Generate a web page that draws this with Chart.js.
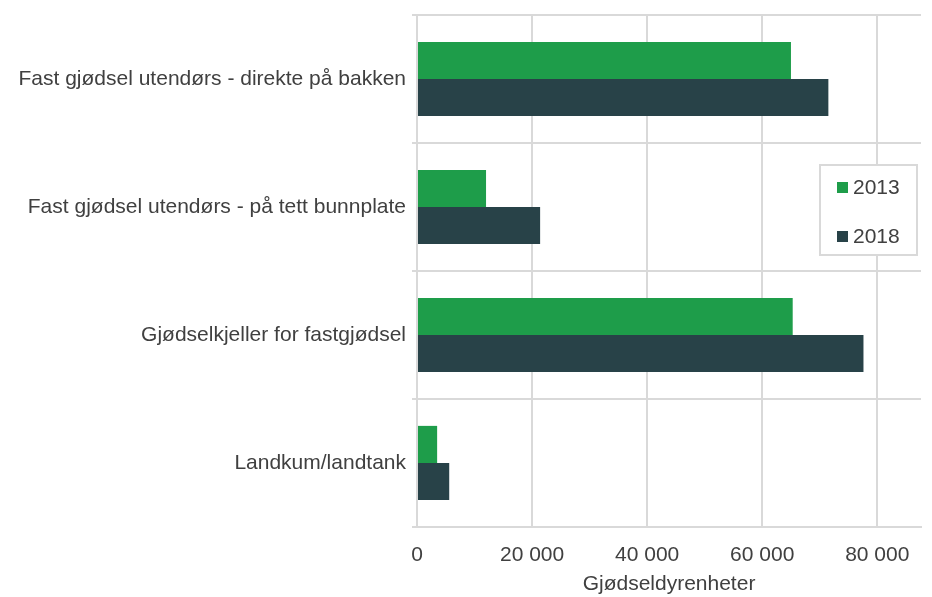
<!DOCTYPE html>
<html>
<head>
<meta charset="utf-8">
<script src="https://cdn.jsdelivr.net/npm/chart.js@4.4.0/dist/chart.umd.min.js"></script>
<style>
  html, body { margin: 0; padding: 0; background: #fff; }
</style>
</head>
<body>
<canvas id="graf" width="932" height="597"></canvas>
<script>
// Lagring av fast husdyrgjødsel, gjødseldyrenheter 2013 og 2018
const kategorier = [
  "Fast gjødsel utendørs - direkte på bakken",
  "Fast gjødsel utendørs - på tett bunnplate",
  "Gjødselkjeller for fastgjødsel",
  "Landkum/landtank"
];
const aar = ["2013", "2018"];
const verdier2013 = [65000, 12000, 65300, 3500];
const verdier2018 = [71500, 21400, 77600, 5600];
const xTicks = [0, 20000, 40000, 60000, 80000];
const xTittel = "Gjødseldyrenheter";

const farger = ["#1e9d4a", "#284248"];
const grid = "#d9d9d9";
const tekst = "#404040";
const font = { family: "'Liberation Sans', Arial, sans-serif", size: 21 };

function tusen(v) {
  return String(v).replace(/\B(?=(\d{3})+(?!\d))/g, " ");
}

// forklaring inne i plottet, med ramme
const forklaring = {
  id: "forklaring",
  afterDraw(chart) {
    const ctx = chart.ctx;
    const a = chart.chartArea;
    const x = a.right - 101, y = 165, w = 97, h = 90;
    ctx.save();
    ctx.fillStyle = "#fff";
    ctx.fillRect(x, y, w, h);
    ctx.strokeStyle = grid;
    ctx.lineWidth = 2;
    ctx.strokeRect(x, y, w, h);
    ctx.font = `${font.size}px ${font.family}`;
    ctx.textBaseline = "middle";
    chart.data.datasets.forEach((ds, i) => {
      const cy = y + 22 + i * 49;
      ctx.fillStyle = ds.backgroundColor;
      ctx.fillRect(x + 17, cy - 5, 11, 11);
      ctx.fillStyle = tekst;
      ctx.fillText(ds.label, x + 33, cy + 1);
    });
    ctx.restore();
  }
};

new Chart(document.getElementById("graf"), {
  type: "bar",
  data: {
    labels: kategorier,
    datasets: [
      { label: aar[0], data: verdier2013, backgroundColor: farger[0] },
      { label: aar[1], data: verdier2018, backgroundColor: farger[1] }
    ]
  },
  options: {
    indexAxis: "y",
    responsive: false,
    animation: false,
    categoryPercentage: 0.58,
    barPercentage: 1,
    layout: { padding: { top: 15, right: 11, left: 0, bottom: 0 } },
    plugins: {
      legend: { display: false },
      tooltip: { enabled: false }
    },
    scales: {
      x: {
        min: 0,
        max: 87600,
        afterBuildTicks: axis => { axis.ticks = xTicks.map(v => ({ value: v })); },
        afterFit: axis => { axis.height = 70; },
        grid: { color: grid, lineWidth: 2, drawTicks: false },
        border: { color: grid, width: 2 },
        ticks: { color: tekst, font: font, padding: 16, maxRotation: 0, callback: v => tusen(v) },
        title: { display: true, text: xTittel, color: tekst, font: font, padding: { top: 1, bottom: 0 } }
      },
      y: {
        // kategoriene ligger midt i båndene, så ingen ekstra plass over/under
        afterFit: axis => { axis.width = 417; axis.paddingTop = 0; axis.paddingBottom = 0; },
        grid: { color: grid, lineWidth: 2, tickLength: 5, offset: true },
        border: { color: grid, width: 2 },
        ticks: { color: tekst, font: font, padding: 6 }
      }
    }
  },
  plugins: [forklaring]
});
</script>
</body>
</html>
